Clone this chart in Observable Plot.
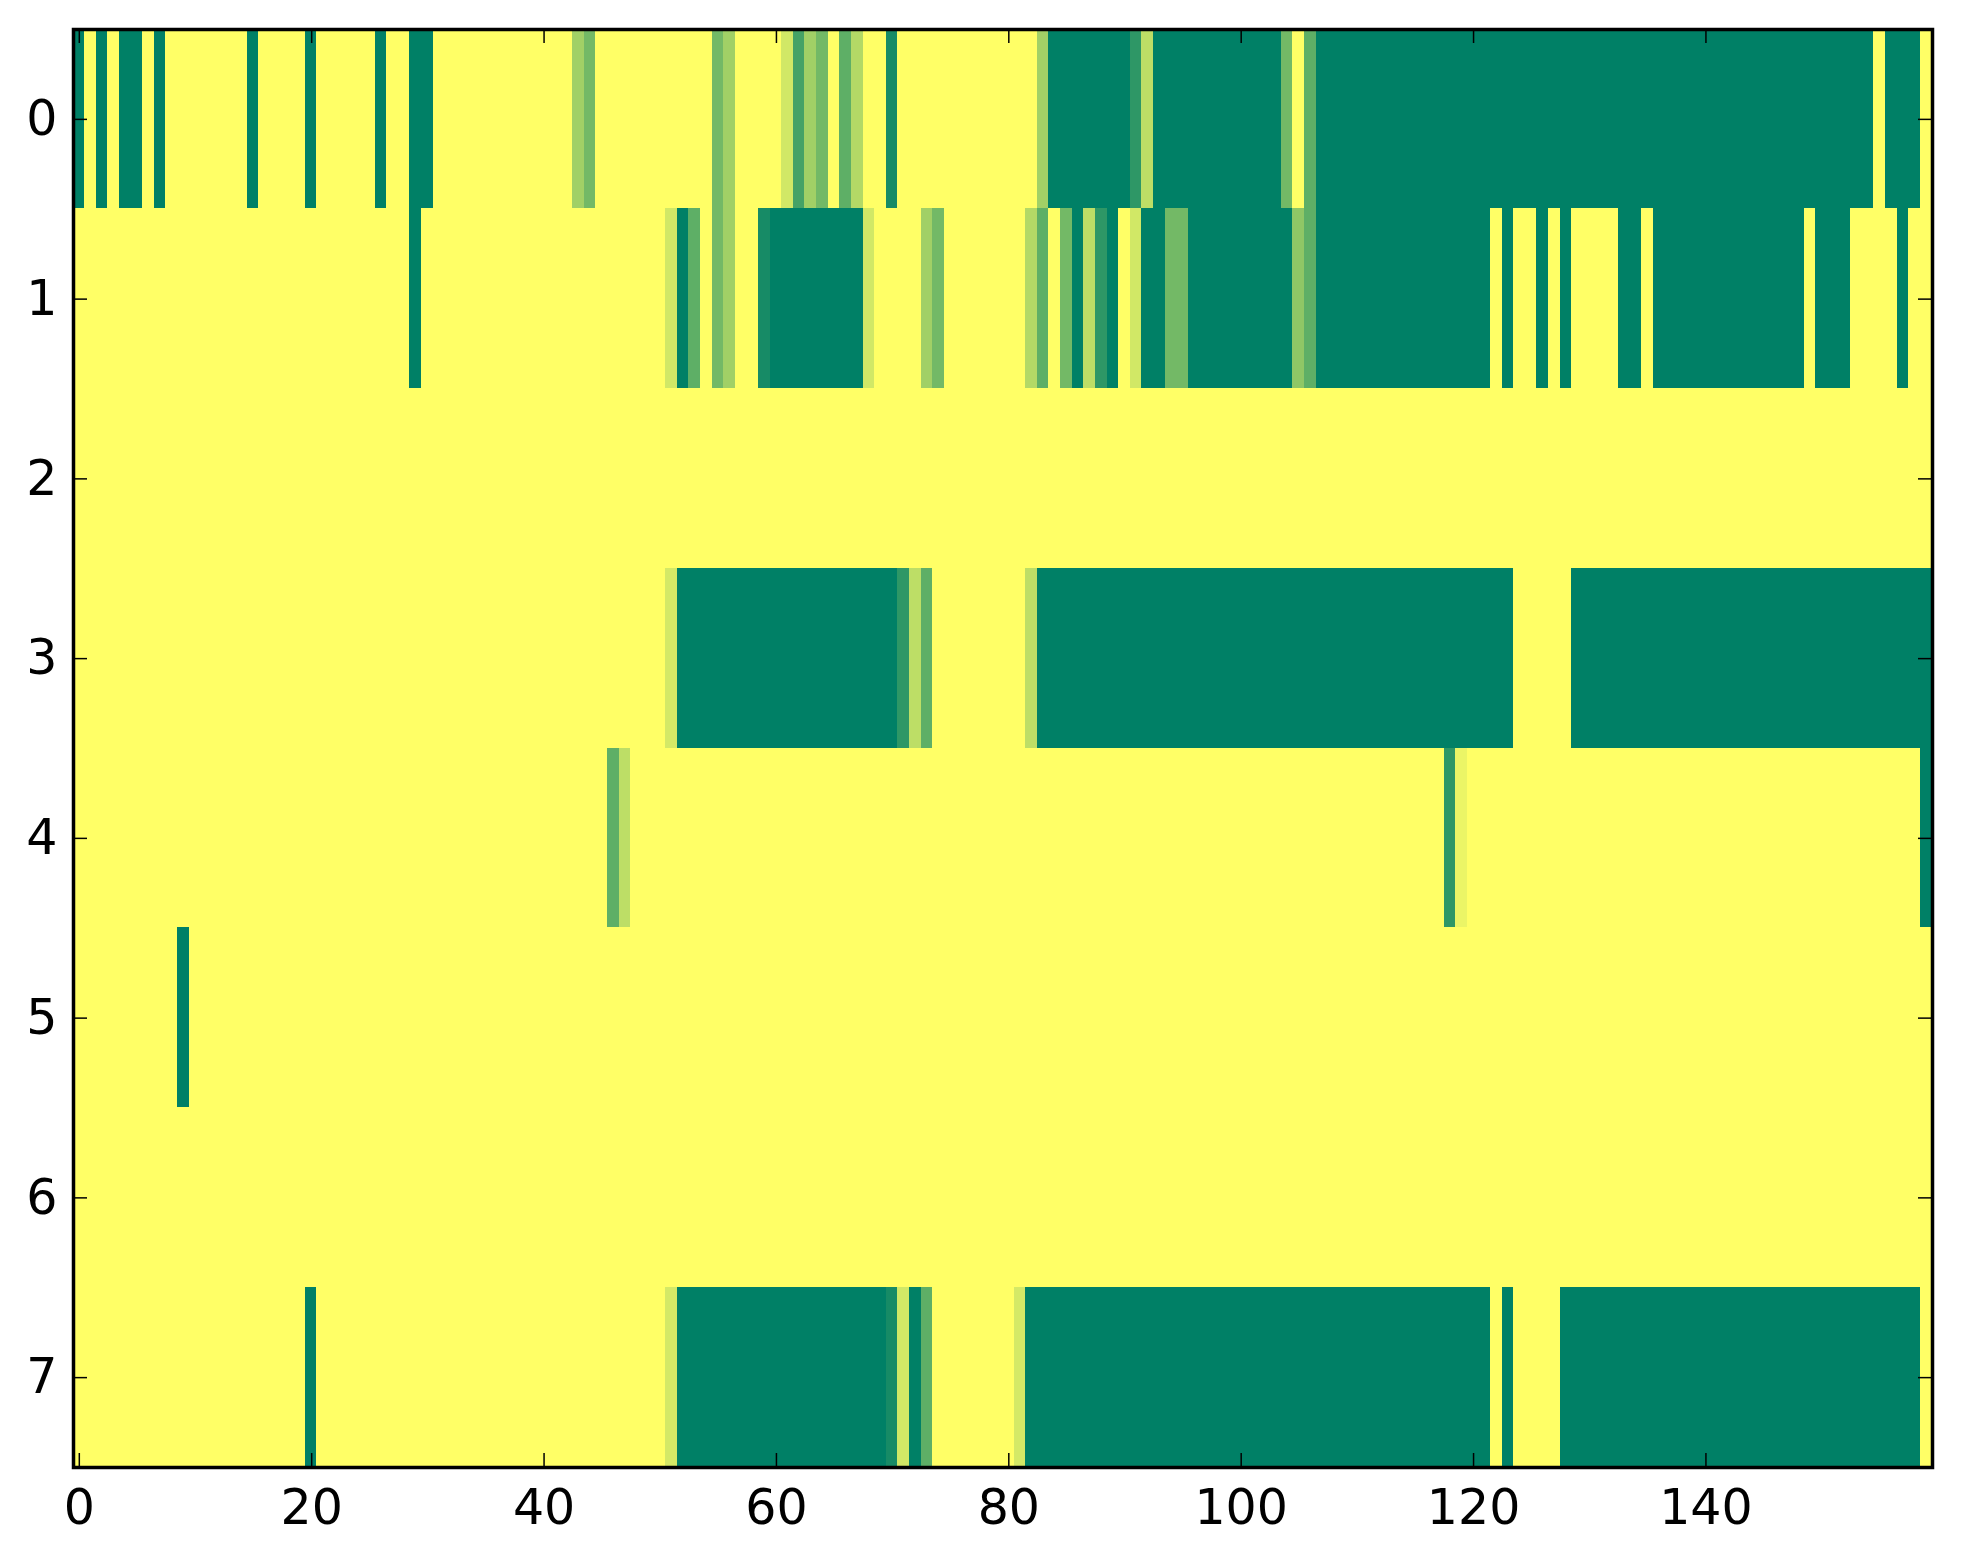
<!DOCTYPE html>
<html>
<head>
<meta charset="utf-8">
<script src="https://cdn.jsdelivr.net/npm/d3@7"></script>
<script src="https://cdn.jsdelivr.net/npm/@observablehq/plot@0.6"></script>
<style>
  html, body { margin: 0; padding: 0; background: #ffffff; }
  #chart svg { display: block; }
</style>
</head>
<body>
<div id="chart"></div>
<script>
// Heatmap values (0 = yellow, 1 = green), 8 rows x 160 columns
const row0 = [
  1,0,1,0,1,1,0,1,0,0, 0,0,0,0,0,1,0,0,0,0,
  1,0,0,0,0,0,1,0,0,1, 1,0,0,0,0,0,0,0,0,0,
  0,0,0,.37,.55,0,0,0,0,0, 0,0,0,0,0,.55,.37,0,0,0,
  0,.18,.73,.37,.55,0,.63,.3,0,0, .91,0,0,0,0,0,0,0,0,0,
  0,0,0,.37,1,1,1,1,1,1, 1,.82,.26,1,1,1,1,1,1,1,
  1,1,1,1,.55,0,.63,1,1,1, 1,1,1,1,1,1,1,1,1,1,
  1,1,1,1,1,1,1,1,1,1, 1,1,1,1,1,1,1,1,1,1,
  1,1,1,1,1,1,1,1,1,1, 1,1,1,1,1,0,1,1,1,0
];
const row1 = [
  0,0,0,0,0,0,0,0,0,0, 0,0,0,0,0,0,0,0,0,0,
  0,0,0,0,0,0,0,0,0,1, 0,0,0,0,0,0,0,0,0,0,
  0,0,0,0,0,0,0,0,0,0, 0,.18,1,.63,0,.55,.37,0,0,.91,
  1,1,1,1,1,1,1,1,.18,0, 0,0,0,.37,.55,0,0,0,0,0,
  0,0,.3,.63,0,.55,1,.26,.82,1, 0,.18,1,1,.55,.55,1,1,1,1,
  1,1,1,1,1,.44,.63,1,1,1, 1,1,1,1,1,1,1,1,1,1,
  1,1,0,1,0,0,1,0,1,0, 0,0,0,1,1,0,1,1,1,1,
  1,1,1,1,1,1,1,1,1,0, 1,1,1,0,0,0,0,1,0,0
];
const row2 = [
  0,0,0,0,0,0,0,0,0,0, 0,0,0,0,0,0,0,0,0,0,
  0,0,0,0,0,0,0,0,0,0, 0,0,0,0,0,0,0,0,0,0,
  0,0,0,0,0,0,0,0,0,0, 0,0,0,0,0,0,0,0,0,0,
  0,0,0,0,0,0,0,0,0,0, 0,0,0,0,0,0,0,0,0,0,
  0,0,0,0,0,0,0,0,0,0, 0,0,0,0,0,0,0,0,0,0,
  0,0,0,0,0,0,0,0,0,0, 0,0,0,0,0,0,0,0,0,0,
  0,0,0,0,0,0,0,0,0,0, 0,0,0,0,0,0,0,0,0,0,
  0,0,0,0,0,0,0,0,0,0, 0,0,0,0,0,0,0,0,0,0
];
const row3 = [
  0,0,0,0,0,0,0,0,0,0, 0,0,0,0,0,0,0,0,0,0,
  0,0,0,0,0,0,0,0,0,0, 0,0,0,0,0,0,0,0,0,0,
  0,0,0,0,0,0,0,0,0,0, 0,.17,1,1,1,1,1,1,1,1,
  1,1,1,1,1,1,1,1,1,1, 1,.82,.26,.63,0,0,0,0,0,0,
  0,0,.26,1,1,1,1,1,1,1, 1,1,1,1,1,1,1,1,1,1,
  1,1,1,1,1,1,1,1,1,1, 1,1,1,1,1,1,1,1,1,1,
  1,1,1,1,0,0,0,0,0,1, 1,1,1,1,1,1,1,1,1,1,
  1,1,1,1,1,1,1,1,1,1, 1,1,1,1,1,1,1,1,1,1
];
const row4 = [
  0,0,0,0,0,0,0,0,0,0, 0,0,0,0,0,0,0,0,0,0,
  0,0,0,0,0,0,0,0,0,0, 0,0,0,0,0,0,0,0,0,0,
  0,0,0,0,0,0,.63,.26,0,0, 0,0,0,0,0,0,0,0,0,0,
  0,0,0,0,0,0,0,0,0,0, 0,0,0,0,0,0,0,0,0,0,
  0,0,0,0,0,0,0,0,0,0, 0,0,0,0,0,0,0,0,0,0,
  0,0,0,0,0,0,0,0,0,0, 0,0,0,0,0,0,0,0,.82,.08,
  0,0,0,0,0,0,0,0,0,0, 0,0,0,0,0,0,0,0,0,0,
  0,0,0,0,0,0,0,0,0,0, 0,0,0,0,0,0,0,0,0,1
];
const row5 = [
  0,0,0,0,0,0,0,0,0,1, 0,0,0,0,0,0,0,0,0,0,
  0,0,0,0,0,0,0,0,0,0, 0,0,0,0,0,0,0,0,0,0,
  0,0,0,0,0,0,0,0,0,0, 0,0,0,0,0,0,0,0,0,0,
  0,0,0,0,0,0,0,0,0,0, 0,0,0,0,0,0,0,0,0,0,
  0,0,0,0,0,0,0,0,0,0, 0,0,0,0,0,0,0,0,0,0,
  0,0,0,0,0,0,0,0,0,0, 0,0,0,0,0,0,0,0,0,0,
  0,0,0,0,0,0,0,0,0,0, 0,0,0,0,0,0,0,0,0,0,
  0,0,0,0,0,0,0,0,0,0, 0,0,0,0,0,0,0,0,0,0
];
const row6 = [
  0,0,0,0,0,0,0,0,0,0, 0,0,0,0,0,0,0,0,0,0,
  0,0,0,0,0,0,0,0,0,0, 0,0,0,0,0,0,0,0,0,0,
  0,0,0,0,0,0,0,0,0,0, 0,0,0,0,0,0,0,0,0,0,
  0,0,0,0,0,0,0,0,0,0, 0,0,0,0,0,0,0,0,0,0,
  0,0,0,0,0,0,0,0,0,0, 0,0,0,0,0,0,0,0,0,0,
  0,0,0,0,0,0,0,0,0,0, 0,0,0,0,0,0,0,0,0,0,
  0,0,0,0,0,0,0,0,0,0, 0,0,0,0,0,0,0,0,0,0,
  0,0,0,0,0,0,0,0,0,0, 0,0,0,0,0,0,0,0,0,0
];
const row7 = [
  0,0,0,0,0,0,0,0,0,0, 0,0,0,0,0,0,0,0,0,0,
  1,0,0,0,0,0,0,0,0,0, 0,0,0,0,0,0,0,0,0,0,
  0,0,0,0,0,0,0,0,0,0, 0,.17,1,1,1,1,1,1,1,1,
  1,1,1,1,1,1,1,1,1,1, .91,.18,1,.63,0,0,0,0,0,0,
  0,.17,1,1,1,1,1,1,1,1, 1,1,1,1,1,1,1,1,1,1,
  1,1,1,1,1,1,1,1,1,1, 1,1,1,1,1,1,1,1,1,1,
  1,1,0,1,0,0,0,0,1,1, 1,1,1,1,1,1,1,1,1,1,
  1,1,1,1,1,1,1,1,1,1, 1,1,1,1,1,1,1,1,1,0
];

const rows = [row0, row1, row2, row3, row4, row5, row6, row7];
const rowIds = [0, 1, 2, 3, 4, 5, 6, 7];
const colIds = d3.range(160);
const xTicks = [0, 20, 40, 60, 80, 100, 120, 140];
const yTicks = [0, 1, 2, 3, 4, 5, 6, 7];

const cells = rows.flatMap((r, i) => r.map((v, j) => ({col: j, row: rowIds[i], v})));

const W = 1963, H = 1564;
const mL = 73, mR = 31, mT = 29, mB = 97;
const plotW = W - mL - mR, plotH = H - mT - mB;
const tickLen = 14;

const chart = Plot.plot({
  width: W,
  height: H,
  marginLeft: mL,
  marginRight: mR,
  marginTop: mT,
  marginBottom: mB,
  style: {fontFamily: "DejaVu Sans", background: "#ffffff", color: "#000000"},
  x: {type: "band", domain: colIds, padding: 0, round: false, axis: null},
  y: {type: "band", domain: rowIds, padding: 0, round: false, axis: null},
  color: {type: "linear", domain: [0, 1], range: ["#ffff66", "#008066"], interpolate: "rgb"},
  marks: [
    Plot.cell(cells, {x: "col", y: "row", fill: "v", stroke: "v", strokeWidth: 1, shapeRendering: "crispEdges"}),
    Plot.tickX(xTicks, {x: d => d, insetTop: plotH - tickLen, stroke: "#000", strokeWidth: 1.5}),
    Plot.tickX(xTicks, {x: d => d, insetBottom: plotH - tickLen, stroke: "#000", strokeWidth: 1.5}),
    Plot.tickY(yTicks, {y: d => d, insetRight: plotW - tickLen, stroke: "#000", strokeWidth: 1.5}),
    Plot.tickY(yTicks, {y: d => d, insetLeft: plotW - tickLen, stroke: "#000", strokeWidth: 1.5}),
    Plot.axisX({ticks: xTicks, anchor: "bottom", tickSize: 0, tickPadding: 22, fontSize: 49, label: null, fill: "#000"}),
    Plot.axisY({ticks: yTicks, anchor: "left", tickSize: 0, tickPadding: 16, fontSize: 49, label: null, fill: "#000"}),
    Plot.frame({stroke: "#000", strokeWidth: 3.5})
  ]
});
document.getElementById("chart").appendChild(chart);
</script>
</body>
</html>
